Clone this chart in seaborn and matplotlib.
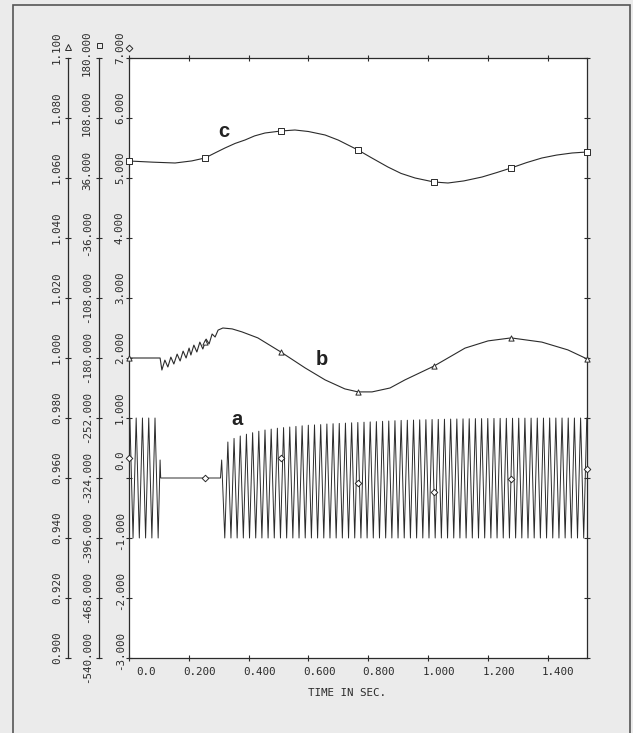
import numpy as np
import pandas as pd
import matplotlib
matplotlib.use("Agg")
import matplotlib.pyplot as plt
import matplotlib.transforms as mtrans
from matplotlib.patches import Rectangle
import seaborn as sns

# ---------------- values ----------------
mark_t = [0.0, 0.254, 0.508, 0.766, 1.020, 1.278, 1.532]

# curve c  (square axis, degrees)
c_t = [0.0, 0.08, 0.154, 0.21, 0.254, 0.29, 0.321, 0.355, 0.388, 0.42, 0.455, 0.508,
       0.555, 0.60, 0.656, 0.70, 0.746, 0.766, 0.81, 0.866, 0.91, 0.957, 1.020, 1.067,
       1.12, 1.181, 1.23, 1.278, 1.33, 1.381, 1.43, 1.482, 1.532]
c_v = [56.4, 55.0, 54.0, 56.5, 60.0, 66.5, 72.0, 77.5, 81.6, 86.5, 90.0, 92.4,
       93.6, 91.8, 87.6, 81.5, 73.2, 69.6, 60.5, 49.2, 41.5, 36.0, 31.2, 30.0,
       32.5, 37.2, 42.5, 48.0, 54.5, 60.0, 63.5, 66.0, 67.2]
c_mark = [56.4, 60.0, 92.4, 69.6, 31.2, 48.0, 67.2]

# curve b  (triangle axis)
b_t = [0.0, 0.104, 0.110, 0.120, 0.130, 0.140, 0.150, 0.161, 0.171, 0.181, 0.191,
       0.201, 0.207, 0.217, 0.227, 0.237, 0.247, 0.258, 0.268, 0.278, 0.288, 0.298,
       0.314, 0.345, 0.378, 0.431, 0.508, 0.589, 0.656, 0.722, 0.766, 0.813, 0.873,
       0.923, 1.020, 1.124, 1.201, 1.278, 1.381, 1.468, 1.532]
b_v = [1.000, 1.000, 0.996, 0.9993, 0.997, 1.0003, 0.998, 1.0013, 0.999, 1.0023, 1.000,
       1.0033, 1.001, 1.0043, 1.002, 1.0053, 1.003, 1.0063, 1.0047, 1.008, 1.007, 1.0093,
       1.010, 1.0097, 1.0087, 1.0067, 1.002, 0.9967, 0.9927, 0.9897, 0.9887, 0.9887, 0.990,
       0.9927, 0.9973, 1.0033, 1.0057, 1.0067, 1.0053, 1.0027, 0.9997]
b_mark = [1.000, 1.0053, 1.002, 0.9887, 0.9973, 1.0067, 0.9997]

# curve a  (diamond axis) - first burst, dead time, then re-energised oscillation
a_head_t = [0.0, 0.003, 0.0135, 0.024, 0.0345, 0.045, 0.0555, 0.066, 0.0765, 0.087,
            0.0975, 0.104, 0.106, 0.306]
a_head_v = [0.33, 1.0, -1.0, 1.0, -1.0, 1.0, -1.0, 1.0, -1.0, 1.0,
            -1.0, 0.30, 0.0, 0.0]
a_start = 0.31      # first peak after reclosing
a_period = 0.0207   # peak spacing
a_trough = -1.0
a_peaks = [0.30, 0.60, 0.66, 0.70, 0.73, 0.755, 0.78, 0.80, 0.815, 0.83,
           0.84, 0.85, 0.86, 0.87, 0.88, 0.885, 0.89, 0.90, 0.905, 0.91,
           0.915, 0.92, 0.925, 0.93, 0.935, 0.94, 0.945, 0.95, 0.955, 0.96,
           0.963, 0.966, 0.97, 0.972, 0.975, 0.977, 0.98, 0.982, 0.984, 0.986,
           0.988, 0.99, 0.99, 0.992, 0.993, 0.994, 0.995, 0.996, 0.997, 0.998,
           0.998, 0.999, 0.999, 1.0, 1.0, 1.0, 1.0, 1.0, 1.0, 1.0]
a_mark = [0.33, 0.0, 0.33, -0.08, -0.23, -0.02, 0.15]

x_ticks = [0.0, 0.2, 0.4, 0.6, 0.8, 1.0, 1.2, 1.4]
x_labels = ["0.0", "0.200", "0.400", "0.600", "0.800", "1.000", "1.200", "1.400"]
d_ticks = [-3, -2, -1, 0, 1, 2, 3, 4, 5, 6, 7]
d_labels = ["-3.000", "-2.000", "-1.000", "0.0", "1.000", "2.000", "3.000",
            "4.000", "5.000", "6.000", "7.000"]
s_ticks = [-540, -468, -396, -324, -252, -180, -108, -36, 36, 108, 180]
s_labels = ["-540.000", "-468.000", "-396.000", "-324.000", "-252.000", "-180.000",
            "-108.000", "-36.000", "36.000", "108.000", "180.000"]
t_ticks = [0.90, 0.92, 0.94, 0.96, 0.98, 1.00, 1.02, 1.04, 1.06, 1.08, 1.10]
t_labels = ["0.900", "0.920", "0.940", "0.960", "0.980", "1.000", "1.020",
            "1.040", "1.060", "1.080", "1.100"]

# build the oscillating trace from the peak list
a_t = list(a_head_t)
a_v = list(a_head_v)
for k, p in enumerate(a_peaks):
    tk = a_start + k * a_period
    a_t.append(tk)
    a_v.append(p)
    if k < len(a_peaks) - 1:
        a_t.append(tk + a_period / 2)
        a_v.append(a_trough)

# ---------------- figure ----------------
sns.set_style("ticks")
plt.rcParams["font.family"] = ["DejaVu Sans Mono"]

W, H = 633, 733
ink = "#2b2b2b"
fs = 7.8

fig = plt.figure(figsize=(W / 100, H / 100), dpi=100, facecolor="#ebebeb")
ax = fig.add_axes([129 / W, (H - 658) / H, 458 / W, 600 / H])
ax.set_facecolor("white")
ax.set_xlim(0, 1.532)
ax.set_ylim(-3, 7)


def side_axis(offset_pt, lo, hi, ticks, labels, pad):
    tw = ax.twinx()
    tw.set_ylim(lo, hi)
    for s in ["right", "top", "bottom"]:
        tw.spines[s].set_visible(False)
    tw.spines["left"].set_visible(True)
    tw.spines["left"].set_position(("outward", offset_pt))
    tw.spines["left"].set_color(ink)
    tw.spines["left"].set_linewidth(0.9)
    tw.yaxis.set_ticks_position("left")
    tw.set_yticks(ticks, labels)
    tw.tick_params(axis="y", direction="inout", length=5, width=0.8, colors=ink,
                   labelsize=fs, pad=pad, left=True, right=False,
                   labelleft=True, labelright=False)
    return tw


ax_s = side_axis(21.6, -540, 180, s_ticks, s_labels, 2.5)
ax_t = side_axis(43.9, 0.9, 1.1, t_ticks, t_labels, 2.0)

for s in ax.spines.values():
    s.set_color(ink)
    s.set_linewidth(0.9)
ax.set_xticks(x_ticks, x_labels)
ax.set_yticks(d_ticks, d_labels)
ax.tick_params(axis="both", direction="inout", length=5, width=0.8, colors=ink,
               labelsize=fs, top=True, right=True, bottom=True, left=True)
ax.tick_params(axis="x", pad=4)
ax.tick_params(axis="y", pad=0.5)

# curves
line_kw = dict(color=ink, linewidth=0.8, estimator=None, sort=False, legend=False)
sns.lineplot(x=a_t, y=a_v, ax=ax, **dict(line_kw, linewidth=0.7))
sns.lineplot(x=b_t, y=b_v, ax=ax_t, **line_kw)
sns.lineplot(x=c_t, y=c_v, ax=ax_s, **line_kw)

mk_kw = dict(color="white", edgecolor=ink, linewidth=0.7, s=14, zorder=3, legend=False)
sns.scatterplot(x=mark_t, y=a_mark, ax=ax, marker="D", **dict(mk_kw, s=11))
sns.scatterplot(x=mark_t, y=b_mark, ax=ax_t, marker="^", **mk_kw)
sns.scatterplot(x=mark_t, y=c_mark, ax=ax_s, marker="s", **mk_kw)
for a_ in (ax, ax_s, ax_t):
    for coll in a_.collections:
        coll.set_clip_on(False)

# axis identifiers above each scale
ax.plot([-0.1332], [1.0183], marker="^", ms=4, mfc="none", mec=ink, mew=0.7,
        transform=ax.transAxes, clip_on=False)
ax.plot([-0.0655], [1.0217], marker="s", ms=3.6, mfc="none", mec=ink, mew=0.7,
        transform=ax.transAxes, clip_on=False)
ax.plot([0.0], [1.0167], marker="D", ms=3.4, mfc="none", mec=ink, mew=0.7,
        transform=ax.transAxes, clip_on=False)

# curve names
lab_kw = dict(fontsize=14.5, fontweight="bold", family=["Liberation Sans"],
              color="#222222", ha="center", va="baseline")
ax.text(0.318, 5.68, "c", **lab_kw)
ax.text(0.645, 1.88, "b", **lab_kw)
ax.text(0.361, 0.88, "a", **lab_kw)

ax.set_xlabel("TIME IN SEC.", fontsize=fs, color=ink)
ax.xaxis.set_label_coords((347 - 129) / 458, -(693 - 658) / 600)
ax.xaxis.label.set_va("center")

# plotter-style tick labels: right-aligned, shifted along the text direction
shift_x = mtrans.ScaledTranslation(27 / 100, 0, fig.dpi_scale_trans)
for lab in ax.get_xticklabels():
    lab.set_ha("right")
    lab.set_transform(lab.get_transform() + shift_x)

shift_y = mtrans.ScaledTranslation(0, 27 / 100, fig.dpi_scale_trans)
for a_ in (ax, ax_s, ax_t):
    for lab in a_.get_yticklabels():
        lab.set_rotation(90)
        lab.set_va("top")
        lab.set_ha("right")
        lab.set_transform(lab.get_transform() + shift_y)

# page frame of the scanned figure
fig.add_artist(Rectangle((13 / W, -0.02), (630 - 13) / W, 1 - 5 / H + 0.02,
                         transform=fig.transFigure, fill=False, lw=1.2,
                         ec="#555555"))

fig.savefig("out.png", dpi=100, facecolor=fig.get_facecolor())
